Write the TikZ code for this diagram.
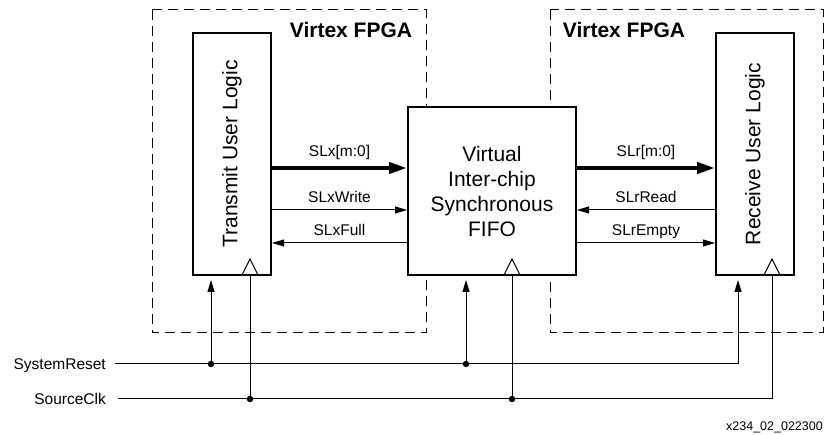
\documentclass[tikz,border=0pt]{standalone}
\usepackage{fontspec}
\setmainfont{Liberation Sans}
\usetikzlibrary{arrows.meta}

\tikzset{
  blk/.style={draw, line width=2pt, fill=white, inner sep=0pt,
    font=\fontsize{21}{25}\selectfont, align=center},
  side/.style={rotate=90, font=\fontsize{21}{25}\selectfont},
  chip/.style={draw, line width=1pt, dash pattern=on 10pt off 6pt},
  sig/.style={font=\fontsize{15.5}{18}\selectfont, inner sep=0pt, text depth=0pt},
  wire/.style={line width=1pt},
  thin/.style={wire, -{Triangle[length=12pt,width=7pt]}},
  bus/.style={line width=4pt, -{Triangle[length=18pt,width=11pt]}},
  dot/.style={fill, circle, inner sep=0pt, minimum size=6.5pt}
}

\begin{document}
\begin{tikzpicture}[x=1pt, y=1pt]
\useasboundingbox (0,0) rectangle (825,434);

% the two chips
\draw[chip] (152,424) rectangle (426,101);
\draw[chip] (550,424) rectangle (823.5,101);
\node[font=\fontsize{21}{25}\selectfont\bfseries] (t1) at (351,404) {Virtex FPGA};
\node[font=\fontsize{21}{25}\selectfont\bfseries] (t2) at (624,404) {Virtex FPGA};

% blocks
\node[blk, minimum width=78pt, minimum height=242pt,
  label={[side]center:Transmit User Logic}] (tx) at (232,280) {};
\node[blk, minimum width=168pt, minimum height=168pt] (fifo) at (492,243)
  {Virtual\\Inter-chip\\Synchronous\\FIFO};
\node[blk, minimum width=78pt, minimum height=242pt,
  label={[side]center:Receive User Logic}] (rx) at (755,280) {};

% clock inputs
\foreach \b/\c in {tx/18, fifo/20, rx/17}
  \draw[wire] ([xshift=\c pt]\b.south) ++(-8,1) -- ++(8,16) -- ++(8,-16);

% data and handshake
\path[sig]
(tx.east |- 0,266) edge[bus] node[above=9pt]{SLx[m:0]} (fifo.west |- 0,266)
(tx.east |- 0,224) edge[thin] node[above=6.5pt]{SLxWrite} (fifo.west |- 0,224)
(fifo.west |- 0,191) edge[thin] node[above=6.5pt]{SLxFull} (tx.east |- 0,191)
(fifo.east |- 0,266) edge[bus] node[above=9pt]{SLr[m:0]} (rx.west |- 0,266)
(rx.west |- 0,224) edge[thin] node[above=6.5pt]{SLrRead} (fifo.east |- 0,224)
(fifo.east |- 0,191) edge[thin] node[above=6.5pt]{SLrEmpty} (rx.west |- 0,191);

% reset and clock
\coordinate (rst) at (115,70);
\coordinate (clk) at (118,35);
\node[sig, left=9pt] (rstl) at (rst) {SystemReset};
\node[sig, left=12pt] (clkl) at (clk) {SourceClk};

\node[dot] (r1) at ([xshift=-21pt]tx.south |- rst) {};
\node[dot] (r2) at ([xshift=-26pt]fifo.south |- rst) {};
\node[dot] (c1) at ([xshift=18pt]tx.south |- clk) {};
\node[dot] (c2) at ([xshift=20pt]fifo.south |- clk) {};

\draw[thin, shorten >=4pt] (rst) -| ([xshift=-17pt]rx.south);
\draw[thin, shorten >=4pt] (r1.center) -- ([xshift=-21pt]tx.south);
\draw[thin, shorten >=4pt] (r2.center) -- ([xshift=-26pt]fifo.south);
\draw[wire] (clk) -| ([xshift=17pt]rx.south);
\draw[wire] (c1.center) -- ([xshift=18pt]tx.south);
\draw[wire] (c2.center) -- ([xshift=20pt]fifo.south);

\node[font=\fontsize{12.5}{15}\selectfont, anchor=base east, inner sep=0pt] (id) at (823,4)
  {x234\_02\_022300};
\end{tikzpicture}
\end{document}
